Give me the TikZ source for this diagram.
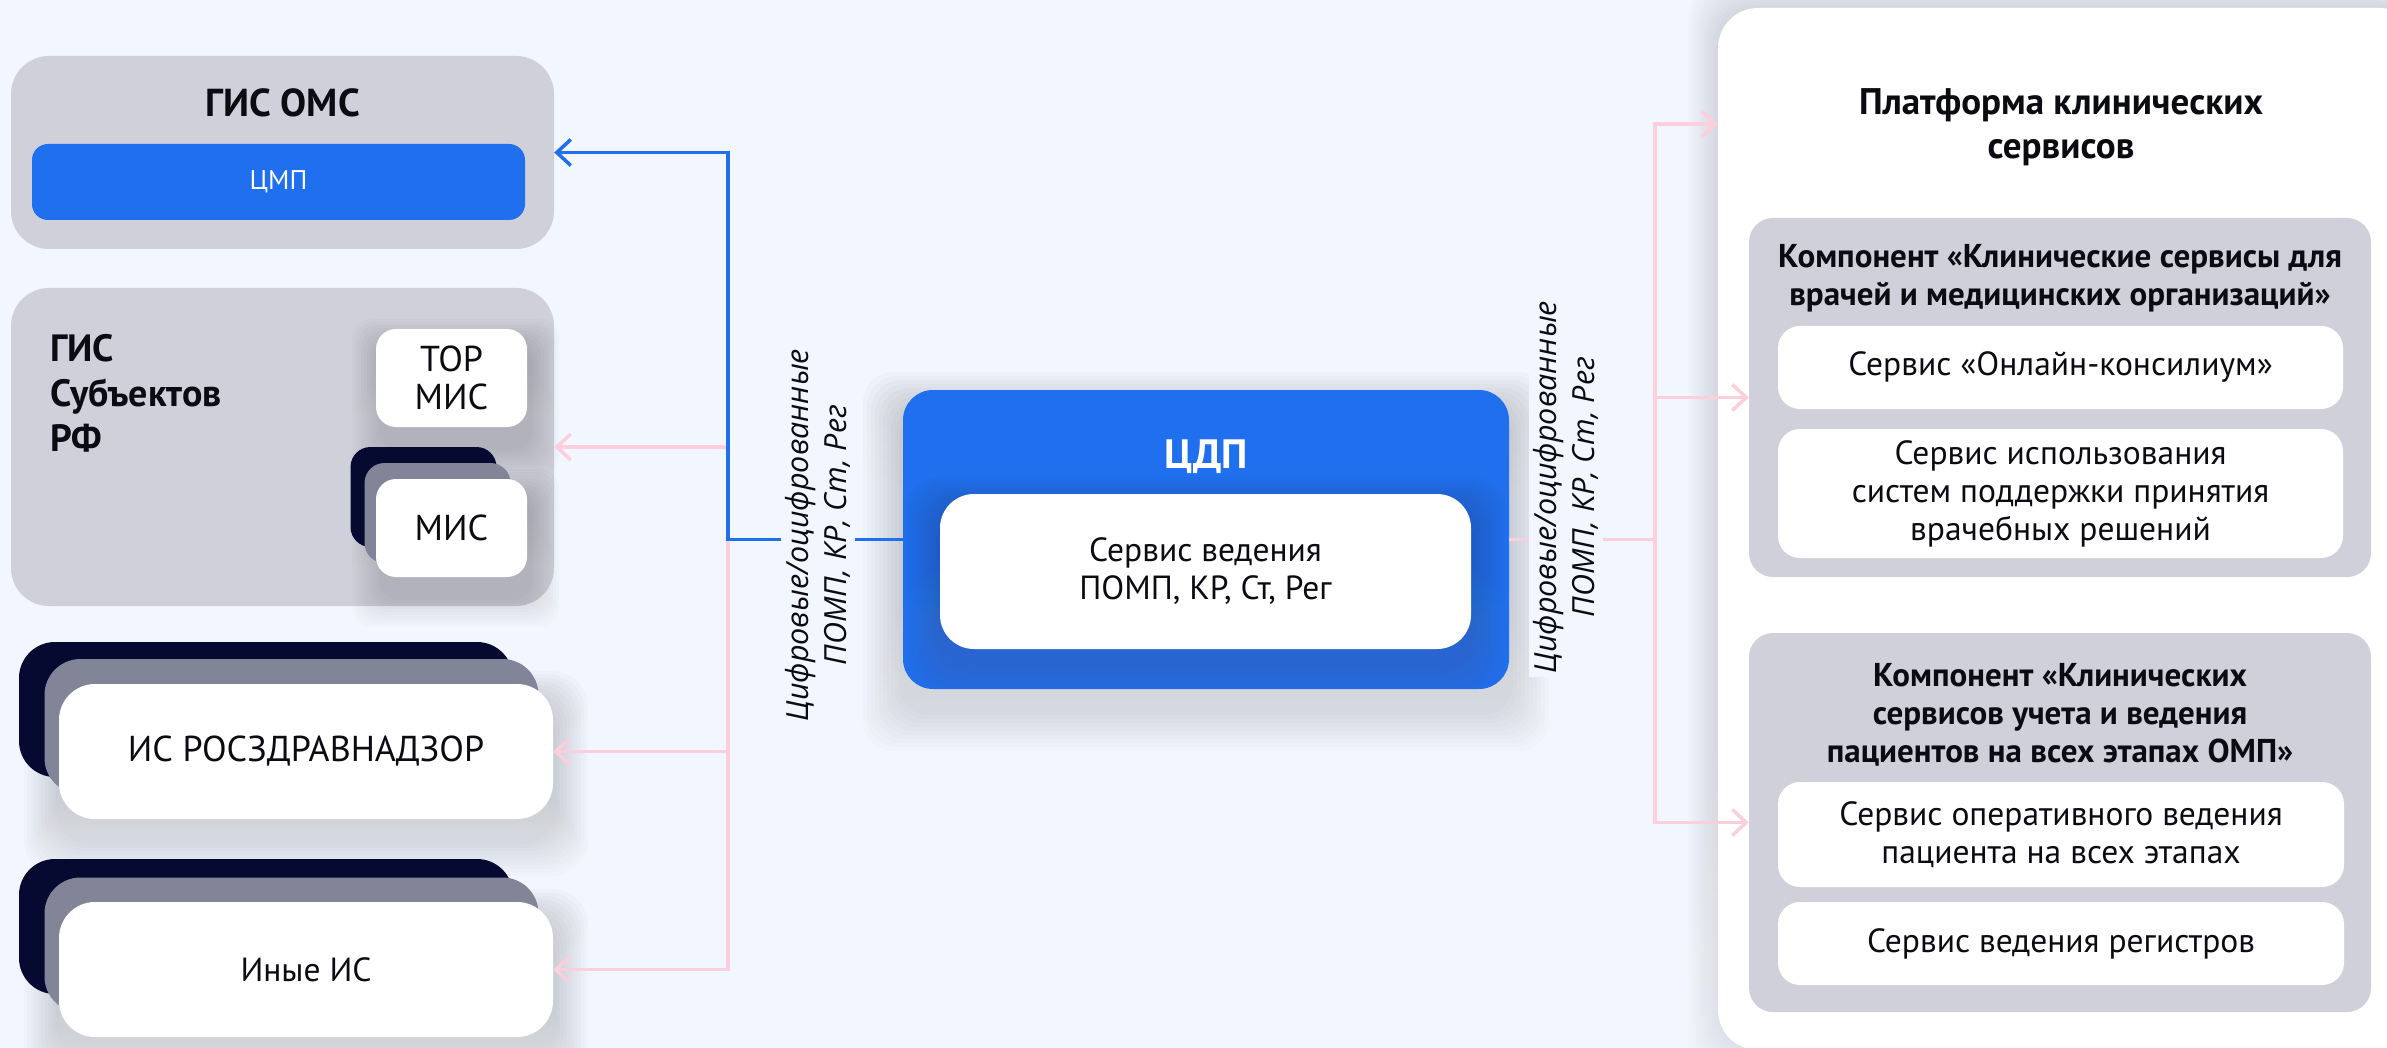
\documentclass[tikz,border=0pt]{standalone}
\usepackage{fontspec}
\setmainfont{PT Sans}
\newfontfamily\labelfont{Open Sans}
\usetikzlibrary{arrows.meta}
\definecolor{bg}{HTML}{F2F6FE}
\definecolor{panel}{HTML}{CFD0DA}
\definecolor{brandblue}{HTML}{1F6FEE}
\definecolor{navy}{HTML}{070A30}
\definecolor{slate}{HTML}{828598}
\definecolor{linkpink}{HTML}{FCCFDB}
\definecolor{ink}{HTML}{0B0B12}
\definecolor{shade}{HTML}{4A5A86}
\newcommand\ftitle{\fontsize{39}{45}\selectfont\bfseries}
\newcommand\fgis{\fontsize{38}{45}\selectfont\bfseries}
\newcommand\fbody{\fontsize{33.5}{38}\selectfont}
\newcommand\fcaps{\fontsize{36}{38}\selectfont}
\newcommand\fsmall{\fontsize{27}{32}\selectfont}
\newcommand\fcdp{\fontsize{41}{48}\selectfont\bfseries}
\newcommand\fplat{\fontsize{37}{44}\selectfont\bfseries}
\newcommand\fcomp{\fontsize{33}{38}\selectfont\bfseries}
\newcommand\flabel{\fontsize{30.5}{38}\selectfont\labelfont\itshape}
% soft shadow: centre x, centre y, width, height, radius, y offset, opacity per layer, spread step
\newcommand\softshadow[8]{%
  \foreach \k in {1,...,10}{%
    \fill[shade, fill opacity=#7, rounded corners=#5]
      (#1-#3/2-#8*\k, #2-#4/2-#8*\k+#6) rectangle (#1+#3/2+#8*\k, #2+#4/2+#8*\k+#6);
  }}
\begin{document}
\begin{tikzpicture}[x=1pt,y=-1pt,
  card/.style={rectangle, rounded corners=#1, inner sep=0pt, align=center, text=ink},
  card/.default=20pt,
  lbl/.style={rotate=90, fill=bg, font=\flabel, align=center, inner sep=4pt, text=ink},
  pinkline/.style={draw=linkpink, line width=3.5pt},
  pinklink/.style={pinkline, -{Straight Barb[length=14pt,width=26pt]}},
  bluelink/.style={draw=brandblue, line width=3.5pt, -{Straight Barb[length=14pt,width=26pt]}},
]
\fill[bg] (0,0) rectangle (2387,1048);
\useasboundingbox (0,0) rectangle (2387,1048);
\clip (0,0) rectangle (2387,1048);

% ---------- left column ----------
\node[card=38pt, fill=panel, minimum width=543pt, minimum height=193pt] (gisoms) at (282.5,152.5) {};
\node[font=\ftitle, text=ink] (gisomsT) at (282.5,103) {ГИС ОМС};
\node[card=16pt, fill=brandblue, minimum width=493pt, minimum height=76pt, text=white, font=\fsmall] (cmp) at (278.5,182) {ЦМП};

\node[card=38pt, fill=panel, minimum width=543pt, minimum height=318pt] (gissub) at (282.5,447) {};
\node[anchor=west, align=left, font=\fgis, text=ink, inner sep=0pt] (gissubT) at (50,393) {ГИС\\Субъектов\\РФ};
\softshadow{455.5}{380}{147}{98}{20pt}{18}{0.011}{3}
\node[card=20pt, fill=white, minimum width=151pt, minimum height=98pt, font=\fcaps] (tor) at (451.5,378) {ТОР\\МИС};
\softshadow{455.5}{530}{147}{98}{20pt}{18}{0.011}{3}
\node[card=20pt, fill=navy, minimum width=146pt, minimum height=100pt] (misC) at (423.5,497) {};
\node[card=20pt, fill=slate, minimum width=146pt, minimum height=100pt] (misB) at (437.5,513) {};
\node[card=20pt, fill=white, minimum width=151pt, minimum height=98pt, font=\fcaps] (mis) at (451.5,528) {МИС};

\softshadow{306}{751.5}{494}{135}{36pt}{22}{0.012}{3.5}
\node[card=36pt, fill=navy, minimum width=494pt, minimum height=135pt] (roszC) at (266,709.5) {};
\node[card=36pt, fill=slate, minimum width=494pt, minimum height=135pt] (roszB) at (291.5,726.5) {};
\node[card=36pt, fill=white, minimum width=494pt, minimum height=135pt, font=\fcaps] (rosz) at (306,751.5) {ИС РОСЗДРАВНАДЗОР};

\softshadow{306}{969.5}{494}{135}{36pt}{22}{0.012}{3.5}
\node[card=36pt, fill=navy, minimum width=494pt, minimum height=135pt] (inyeC) at (266,926.5) {};
\node[card=36pt, fill=slate, minimum width=494pt, minimum height=135pt] (inyeB) at (291.5,945) {};
\node[card=36pt, fill=white, minimum width=494pt, minimum height=135pt, font=\fbody] (inye) at (306,969.5) {Иные ИС};

% ---------- centre ----------
\softshadow{1206}{539.5}{606}{299}{30pt}{22}{0.01}{4}
\node[card=30pt, fill=brandblue, minimum width=606pt, minimum height=299pt] (cdp) at (1206,539.5) {};
\node[font=\fcdp, text=white] (cdpT) at (1206,457) {ЦДП};
\begin{scope}
  \clip[rounded corners=30pt] (cdp.north west) rectangle (cdp.south east);
  \softshadow{1205.5}{571.5}{531}{155}{34pt}{18}{0.012}{3.5}
\end{scope}
\node[card=34pt, fill=white, minimum width=531pt, minimum height=155pt, font=\fbody] (cdpS) at (1205.5,571.5) {Сервис ведения\\ПОМП, КР, Ст, Рег};

% ---------- right column ----------
\softshadow{2069}{529}{702}{1042}{40pt}{0}{0.006}{3}
\node[card=40pt, fill=white, minimum width=702pt, minimum height=1042pt] (plat) at (2069,529) {};
\node[font=\fplat, align=center, text=ink] (platT) at (2061,127) {Платформа клинических\\сервисов};

\node[card=24pt, fill=panel, minimum width=622pt, minimum height=359pt] (comp1) at (2060,397.5) {};
\node[font=\fcomp, align=center, text=ink] (comp1T) at (2060,278) {Компонент «Клинические сервисы для\\врачей и медицинских организаций»};
\node[card=22pt, fill=white, minimum width=565pt, minimum height=83pt, font=\fbody] (s1) at (2060.5,367.5) {Сервис «Онлайн-консилиум»};
\node[card=22pt, fill=white, minimum width=565pt, minimum height=129pt, font=\fbody] (s2) at (2060.5,493.5) {Сервис использования\\систем поддержки принятия\\врачебных решений};

\node[card=24pt, fill=panel, minimum width=622pt, minimum height=379pt] (comp2) at (2060,822.5) {};
\node[font=\fcomp, align=center, text=ink] (comp2T) at (2060,715) {Компонент «Клинических\\сервисов учета и ведения\\пациентов на всех этапах ОМП»};
\node[card=22pt, fill=white, minimum width=566pt, minimum height=105pt, font=\fbody] (s3) at (2061,834.5) {Сервис оперативного ведения\\пациента на всех этапах};
\node[card=22pt, fill=white, minimum width=566pt, minimum height=83pt, font=\fbody] (s4) at (2061,943.5) {Сервис ведения регистров};

% ---------- connectors ----------
\coordinate (jl) at (728,539.5);
\coordinate (jr) at (1655,539.5);
\coordinate (platIn) at (1718,124);

\draw[pinklink] (jl) |- (gissub.east);
\draw[pinklink] (jl) |- (rosz.east);
\draw[pinklink] (jl) |- (inye.east);
\draw[bluelink] (cdp.west) -- (jl) |- (gisoms.east);

\draw[pinkline] (cdp.east) -- (jr);
\draw[pinklink] (jr) |- (platIn);
\draw[pinklink] (jr) |- (comp1.west);
\draw[pinklink] (jr) |- (comp2.west);

\node[lbl] (lblL) at (818,535) {Цифровые/оцифрованные\\ПОМП, КР, Ст, Рег};
\node[lbl] (lblR) at (1566,487) {Цифровые/оцифрованные\\ПОМП, КР, Ст, Рег};
\end{tikzpicture}
\end{document}
